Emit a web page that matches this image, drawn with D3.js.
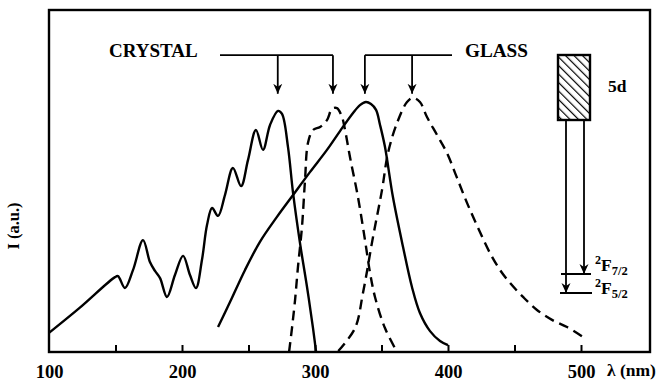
<!DOCTYPE html>
<html>
<head>
<meta charset="utf-8">
<script src="https://cdn.jsdelivr.net/npm/d3@7"></script>
<style>
  html, body { margin: 0; padding: 0; background: #fff; }
  svg { display: block; }
  text { font-family: "Liberation Serif", "Times New Roman", serif; font-weight: bold; fill: #000; }
</style>
</head>
<body>
<svg id="chart" width="668" height="381"></svg>
<script>
// Wavelength (nm) and intensity (a.u.) samples for the four spectra
const crystalExcWl = [100, 123, 149.6, 151.9, 157.1, 163.2, 170.7, 175.9, 179.7, 183.5, 188.7, 194.7, 200.8, 206, 210.5, 215, 218.8, 222.6, 227.1, 232.3, 238.3, 244.4, 249.6, 255.6, 260.9, 266.2, 272.2, 275.2, 279.7, 283.5, 288.7, 294, 298.5, 300.8];
const crystalExcI  = [5.6, 12.9, 21.9, 22.2, 18.7, 24.0, 32.7, 26.3, 23.7, 21.6, 16.1, 22.5, 28.1, 22.5, 18.7, 26.9, 37.1, 42.1, 39.8, 45.9, 53.8, 48.5, 56.1, 64.9, 59.1, 66.4, 70.5, 69.6, 59.9, 46.5, 31.9, 19.0, 7.0, 0];

const crystalEmWl = [280.5, 282.7, 285, 287.2, 290.2, 292.5, 294.7, 298.5, 303.8, 309, 312.8, 316.5, 320.3, 322.6, 326.3, 332.3, 337.6, 341.4, 345.1, 352.6, 361.7];
const crystalEmI  = [0, 7.0, 15.2, 24.9, 36.5, 50.3, 61.1, 64.9, 65.8, 67.8, 71.1, 71.3, 68.7, 64.9, 57.0, 45.3, 32.7, 23.1, 16.1, 7.0, 0];

const glassExcWl = [227.1, 236.1, 247.4, 258.6, 271.4, 283.5, 296.2, 309, 318.8, 328.6, 333.8, 338.3, 342.1, 345.9, 348.9, 352.6, 358.6, 366.2, 372.9, 378.9, 386.5, 394, 400];
const glassExcI  = [7.3, 14.6, 24.0, 32.2, 39.5, 45.9, 52.6, 59.1, 64.6, 69.9, 72.2, 73.1, 72.5, 70.8, 66.4, 60.0, 45.3, 30.7, 19.0, 11.4, 6.1, 3.2, 2.0];

const glassEmWl = [317.5, 330.1, 336.1, 343.6, 350.4, 354.9, 361.7, 369.2, 373.7, 378.9, 384.2, 391.7, 399.2, 406.8, 414.3, 422.6, 431.6, 439.1, 446.6, 456.4, 466.9, 478.2, 489.5, 501.5];
const glassEmI  = [0.3, 7.0, 17.3, 33.6, 47.4, 58.2, 67.0, 73.1, 74.3, 73.1, 68.7, 63.5, 58.2, 50.9, 43.6, 36.3, 28.9, 24.0, 20.2, 16.1, 12.3, 9.4, 7.3, 4.4];

// Peak wavelengths marked by the arrows
const crystalPeaks = [272, 313.5];
const glassPeaks = [337.5, 373];

// Axis ticks
const minorTicks = [150, 200, 250, 300, 350, 400, 450, 500];
const tickLabels = [100, 200, 300, 400, 500];

const svg = d3.select("#chart");
const x = d3.scaleLinear().domain([100, 500]).range([49, 581]);
const y = d3.scaleLinear().domain([0, 100]).range([352, 10]);
const xMax = x.invert(650);

const line = d3.line()
  .x(d => x(d[0]))
  .y(d => y(d[1]))
  .curve(d3.curveCatmullRom.alpha(0.5));

const zip = (a, b) => a.map((v, i) => [v, b[i]]);

// Arrowhead marker
const defs = svg.append("defs");
defs.append("marker")
  .attr("id", "arrow")
  .attr("viewBox", "0 0 10 10")
  .attr("refX", 10).attr("refY", 5)
  .attr("markerWidth", 10).attr("markerHeight", 10)
  .attr("markerUnits", "userSpaceOnUse")
  .attr("orient", "auto")
  .append("path")
  .attr("d", "M0,0.5 L10,5 L0,9.5 L3,5 Z")
  .attr("fill", "#000");

// Hatching for the 5d band
const hatch = defs.append("pattern")
  .attr("id", "hatch")
  .attr("patternUnits", "userSpaceOnUse")
  .attr("width", 6).attr("height", 6)
  .attr("patternTransform", "rotate(-45)");
hatch.append("line")
  .attr("x1", 0).attr("y1", 0).attr("x2", 0).attr("y2", 6)
  .attr("stroke", "#000").attr("stroke-width", 2.4);

// Frame
svg.append("rect")
  .attr("x", x(100)).attr("y", y(100))
  .attr("width", x(xMax) - x(100)).attr("height", y(0) - y(100))
  .attr("fill", "none").attr("stroke", "#000").attr("stroke-width", 2.4);

// Inward ticks
svg.append("g")
  .attr("transform", `translate(0,${y(0)})`)
  .call(d3.axisBottom(x).tickValues(minorTicks).tickSize(-7).tickFormat(""))
  .call(g => g.select(".domain").remove())
  .call(g => g.selectAll("line").attr("stroke", "#000").attr("stroke-width", 2));

// Tick labels
svg.append("g")
  .attr("transform", `translate(0,${y(0)})`)
  .call(d3.axisBottom(x).tickValues(tickLabels).tickSize(0).tickPadding(13).tickFormat(d3.format("d")))
  .call(g => g.select(".domain").remove())
  .call(g => g.selectAll("text")
    .attr("font-family", "'Liberation Serif', 'Times New Roman', serif")
    .attr("font-weight", "bold")
    .attr("font-size", 18.5)
    .attr("fill", "#000"));

svg.append("text")
  .attr("x", 607).attr("y", 376)
  .attr("font-size", 17.5)
  .text("λ (nm)");

svg.append("text")
  .attr("transform", "translate(19,226) rotate(-90)")
  .attr("text-anchor", "middle")
  .attr("font-size", 16.5)
  .text("I (a.u.)");

// Spectra
const series = [
  { pts: zip(crystalExcWl, crystalExcI), dash: null },
  { pts: zip(crystalEmWl, crystalEmI), dash: "10,6" },
  { pts: zip(glassExcWl, glassExcI), dash: null },
  { pts: zip(glassEmWl, glassEmI), dash: "10,6" }
];
svg.append("g").selectAll("path")
  .data(series)
  .join("path")
  .attr("d", d => line(d.pts))
  .attr("fill", "none")
  .attr("stroke", "#000")
  .attr("stroke-width", 2.4)
  .attr("stroke-linejoin", "round")
  .attr("stroke-dasharray", d => d.dash);

// Bracket annotations
const bracketTop = y(86.8);
const arrowTip = y(75.5);
function bracket(peaks, x0, x1) {
  const g = svg.append("g");
  g.append("line")
    .attr("x1", x0).attr("x2", x1)
    .attr("y1", bracketTop).attr("y2", bracketTop)
    .attr("stroke", "#000").attr("stroke-width", 1.8);
  g.selectAll("line.arr")
    .data(peaks)
    .join("line")
    .attr("class", "arr")
    .attr("x1", d => x(d)).attr("x2", d => x(d))
    .attr("y1", bracketTop).attr("y2", arrowTip)
    .attr("stroke", "#000").attr("stroke-width", 1.8)
    .attr("marker-end", "url(#arrow)");
}
bracket(crystalPeaks, 220, x(crystalPeaks[1]));
bracket(glassPeaks, x(glassPeaks[0]), 452);

svg.append("text").attr("x", 109).attr("y", 57).attr("font-size", 19).text("CRYSTAL");
svg.append("text").attr("x", 465).attr("y", 57).attr("font-size", 19.2).text("GLASS");

// Energy level scheme
const lv = svg.append("g");
lv.append("rect")
  .attr("x", 558).attr("y", 55).attr("width", 32).attr("height", 65)
  .attr("fill", "url(#hatch)").attr("stroke", "#000").attr("stroke-width", 2.4);
lv.append("text").attr("x", 608).attr("y", 92).attr("font-size", 17.5).text("5d");

lv.append("line").attr("x1", 561).attr("x2", 591).attr("y1", 274).attr("y2", 274)
  .attr("stroke", "#000").attr("stroke-width", 2);
lv.append("line").attr("x1", 560).attr("x2", 592).attr("y1", 293).attr("y2", 293)
  .attr("stroke", "#000").attr("stroke-width", 2);

lv.append("line").attr("x1", 566).attr("x2", 566).attr("y1", 120).attr("y2", 293)
  .attr("stroke", "#000").attr("stroke-width", 1.8).attr("marker-end", "url(#arrow)");
lv.append("line").attr("x1", 584).attr("x2", 584).attr("y1", 120).attr("y2", 274)
  .attr("stroke", "#000").attr("stroke-width", 1.8).attr("marker-end", "url(#arrow)");

function levelLabel(yb, sub) {
  const t = lv.append("text").attr("x", 595).attr("y", yb).attr("font-size", 17.5);
  t.append("tspan").attr("font-size", 12).attr("dy", -7).text("2");
  t.append("tspan").attr("dy", 7).text("F");
  t.append("tspan").attr("font-size", 12.5).attr("dy", 4).text(sub);
}
levelLabel(271, "7/2");
levelLabel(294, "5/2");
</script>
</body>
</html>
